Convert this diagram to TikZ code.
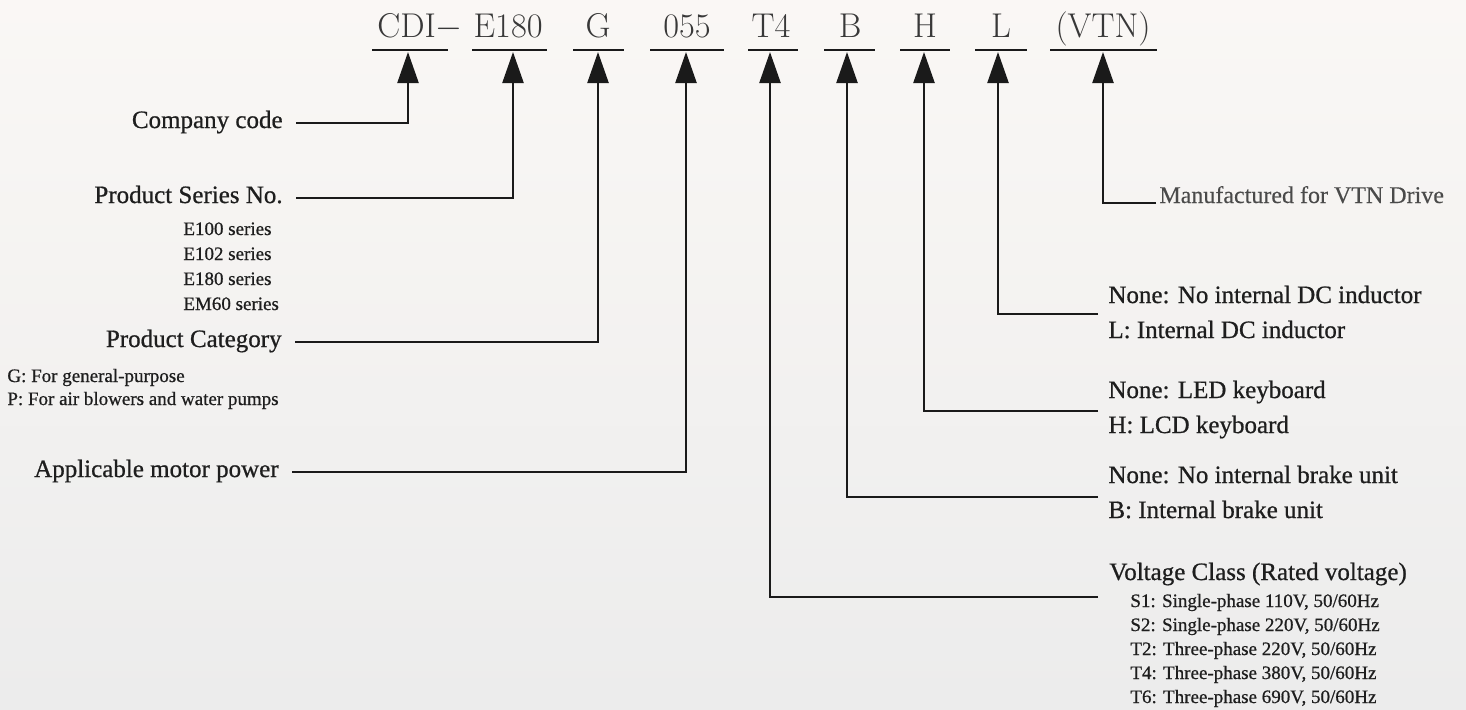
\documentclass[tikz,border=0pt]{standalone}
\usepackage{fontspec}
\newfontfamily\tnr{Liberation Serif}[FakeBold=0.7]
\newfontfamily\tnrl{Liberation Serif}[FakeBold=0.3]
\usetikzlibrary{arrows.meta}
\definecolor{ink}{HTML}{1E1E1E}
\definecolor{codeink}{HTML}{383838}
\definecolor{lineink}{HTML}{1A1A1A}
\definecolor{mfink}{HTML}{4A4A4A}
\tikzset{
  codetok/.style={inner sep=0pt, text=codeink, font=\fontsize{17.2}{20}\selectfont},
  biglbl/.style={inner sep=0pt, text=ink, font=\tnr\fontsize{12.5}{15}\selectfont},
  smalllbl/.style={inner sep=0pt, text=ink, font=\tnr\fontsize{9.5}{11}\selectfont},
  mflbl/.style={inner sep=0pt, text=mfink, font=\tnrl\fontsize{12}{14}\selectfont},
  uline/.style={draw=lineink, line width=1.3pt},
  conn/.style={draw=lineink, line width=1.2pt, -{Triangle[length=15.5pt,width=10.5pt]}},
}
\begin{document}
\begin{tikzpicture}[x=0.5pt,y=-0.5pt]
\shade[top color=white!96!brown!98!gray, bottom color=white!85!gray] (0,0) rectangle (1466,709);
\useasboundingbox (0,0) rectangle (1466,709);

% code tokens
\node[codetok, anchor=base west] (tCDI) at (377,37) {CDI$-$};
\node[codetok, anchor=base east] (tE) at (543,37) {E180};
\node[codetok, anchor=base] (tG) at (598,37) {G};
\node[codetok, anchor=base] (tP) at (687,37) {055};
\node[codetok, anchor=base] (tT) at (771,37) {T4};
\node[codetok, anchor=base] (tB) at (850,37) {B};
\node[codetok, anchor=base] (tH) at (925,37) {H};
\node[codetok, anchor=base] (tL) at (1001,37) {L};
\node[codetok, anchor=base] (tV) at (1103,37) {(VTN)};

% underlines
\draw[uline] (372,50) -- (448,50);
\draw[uline] (472,50) -- (547,50);
\draw[uline] (573,50) -- (624,50);
\draw[uline] (650,50) -- (724,50);
\draw[uline] (748,50) -- (798,50);
\draw[uline] (824,50) -- (875,50);
\draw[uline] (900,50) -- (950,50);
\draw[uline] (975,50) -- (1027,50);
\draw[uline] (1050,50) -- (1157,50);

% arrow tips
\coordinate (aCDI) at (408,52);
\coordinate (aE) at (513,52);
\coordinate (aG) at (598,52);
\coordinate (aP) at (686,52);
\coordinate (aT) at (770,52);
\coordinate (aB) at (847,52);
\coordinate (aH) at (924,52);
\coordinate (aL) at (998,52);
\coordinate (aV) at (1103,52);

% connector starts
\coordinate (sCDI) at (296,123);
\coordinate (sE) at (296,198);
\coordinate (sG) at (295,342);
\coordinate (sP) at (292,472);
\coordinate (sT) at (1098,597);
\coordinate (sB) at (1098,497);
\coordinate (sH) at (1098,411);
\coordinate (sL) at (1098,314);
\coordinate (sV) at (1156,203);

\draw[conn] (sCDI) -| (aCDI);
\draw[conn] (sE) -| (aE);
\draw[conn] (sG) -| (aG);
\draw[conn] (sP) -| (aP);
\draw[conn] (sT) -| (aT);
\draw[conn] (sB) -| (aB);
\draw[conn] (sH) -| (aH);
\draw[conn] (sL) -| (aL);
\draw[conn] (sV) -| (aV);

% left labels
\node[biglbl, anchor=base east] (lCo) at (283,128) {Company code};
\node[biglbl, anchor=base east] (lSe) at (283,203) {Product Series No.};
\node[smalllbl, anchor=base west] (s1) at (183,235) {E100 series};
\node[smalllbl, anchor=base west] (s2) at (183,260) {E102 series};
\node[smalllbl, anchor=base west] (s3) at (183,285) {E180 series};
\node[smalllbl, anchor=base west] (s4) at (183,310) {EM60 series};
\node[biglbl, anchor=base east] (lCa) at (282,347) {Product Category};
\node[smalllbl, anchor=base west] (c1) at (7,382) {G: For general-purpose};
\node[smalllbl, anchor=base west] (c2) at (7,405) {P: For air blowers and water pumps};
\node[biglbl, anchor=base east] (lMo) at (279,477) {Applicable motor power};

% right labels
\node[mflbl, anchor=base west] (lV) at (1159,203) {Manufactured for VTN Drive};
\node[biglbl, anchor=base west] (lL1) at (1108,303) {None: No internal DC inductor};
\node[biglbl, anchor=base west] (lL2) at (1108,338) {L: Internal DC inductor};
\node[biglbl, anchor=base west] (lH1) at (1108,398) {None: LED keyboard};
\node[biglbl, anchor=base west] (lH2) at (1108,433) {H: LCD keyboard};
\node[biglbl, anchor=base west] (lB1) at (1108,483) {None: No internal brake unit};
\node[biglbl, anchor=base west] (lB2) at (1108,518) {B: Internal brake unit};
\node[biglbl, anchor=base west] (lT) at (1109,580) {Voltage Class (Rated voltage)};
\node[smalllbl, anchor=base west] (v1) at (1130,607) {S1: Single-phase 110V, 50/60Hz};
\node[smalllbl, anchor=base west] (v2) at (1130,631) {S2: Single-phase 220V, 50/60Hz};
\node[smalllbl, anchor=base west] (v3) at (1130,655) {T2: Three-phase 220V, 50/60Hz};
\node[smalllbl, anchor=base west] (v4) at (1130,679) {T4: Three-phase 380V, 50/60Hz};
\node[smalllbl, anchor=base west] (v5) at (1130,703) {T6: Three-phase 690V, 50/60Hz};
\end{tikzpicture}
\end{document}
